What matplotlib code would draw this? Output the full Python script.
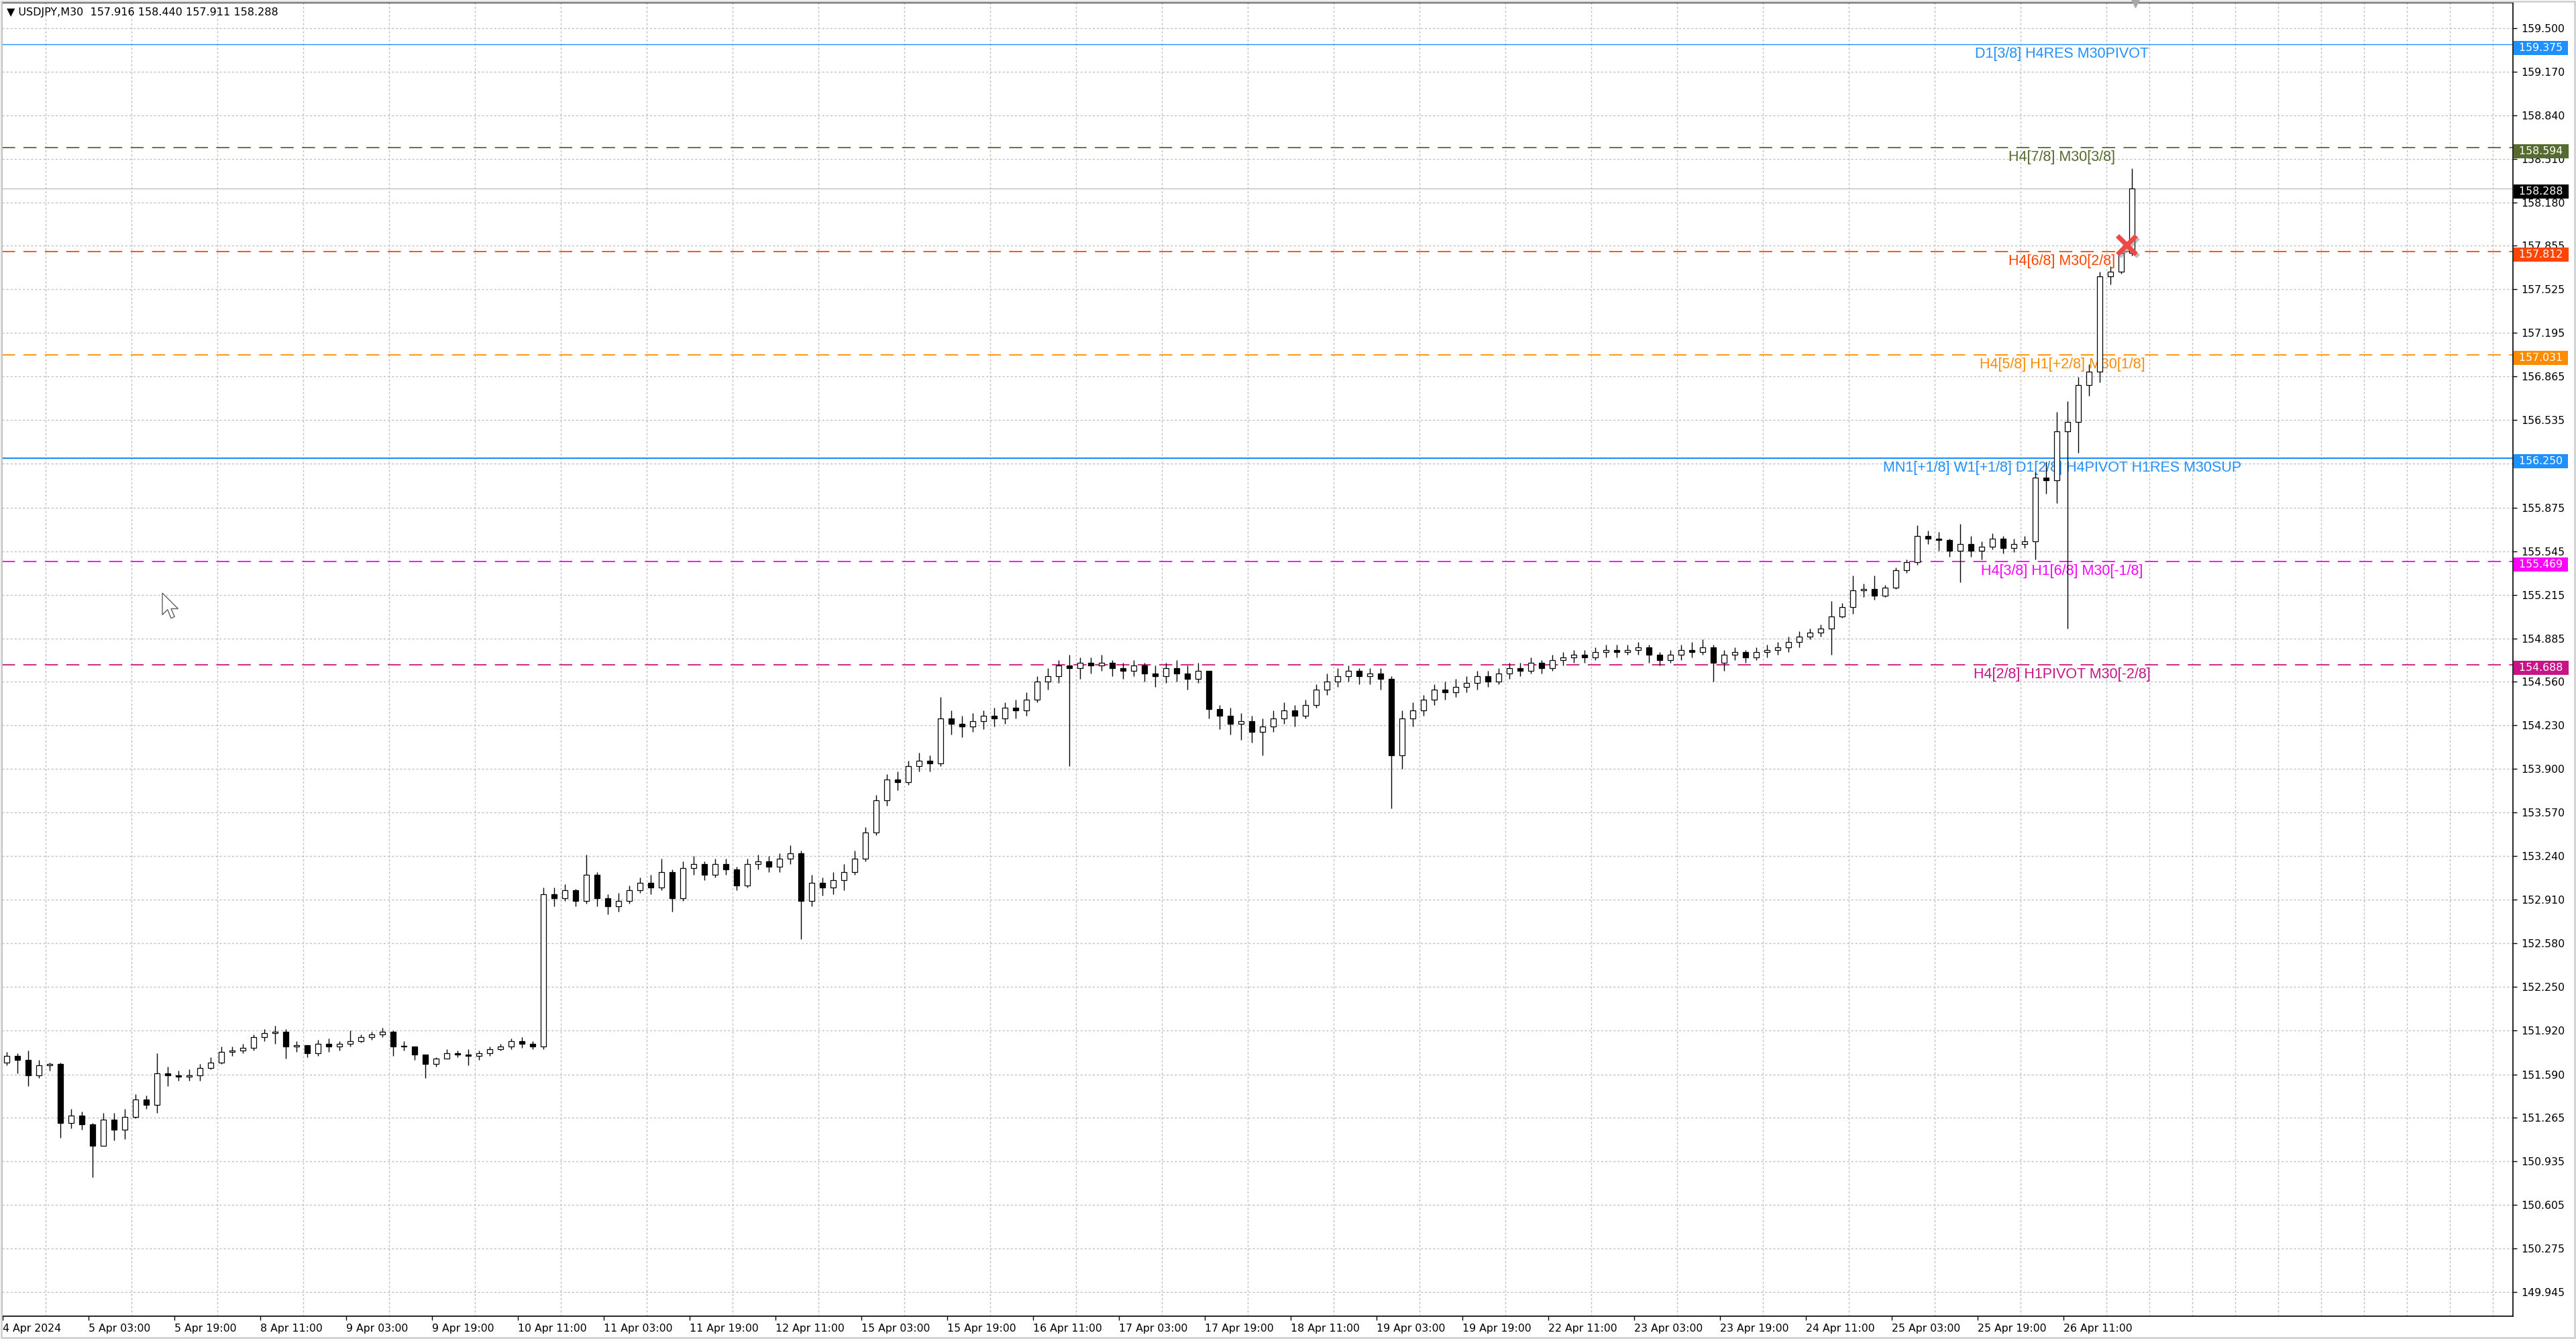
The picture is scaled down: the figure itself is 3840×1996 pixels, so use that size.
import matplotlib
matplotlib.use('Agg')
import matplotlib.pyplot as plt
import matplotlib.patheffects as pe
from matplotlib.patches import Polygon, Rectangle
from matplotlib.transforms import IdentityTransform
import numpy as np

W, H, DPI = 3840, 1996, 100

header = '\u25bc USDJPY,M30  157.916 158.440 157.911 158.288'

# 2-hour candles (open = previous close)
first_open = 151.68
closes = [151.73, 151.70, 151.58, 151.66, 151.67, 151.22, 151.28, 151.21, 151.05, 151.25,
          151.17, 151.27, 151.40, 151.36, 151.60, 151.58, 151.57, 151.58, 151.64, 151.68,
          151.76, 151.77, 151.79, 151.87, 151.90, 151.91, 151.80, 151.81, 151.75, 151.82,
          151.80, 151.82, 151.84, 151.87, 151.89, 151.91, 151.80, 151.80, 151.74, 151.67,
          151.71, 151.75, 151.74, 151.73, 151.75, 151.78, 151.80, 151.84, 151.82, 151.80,
          152.95, 152.92, 152.98, 152.90, 153.10, 152.92, 152.86, 152.90, 152.98, 153.04,
          153.00, 153.12, 152.92, 153.15, 153.18, 153.10, 153.18, 153.14, 153.02, 153.18,
          153.20, 153.16, 153.22, 153.26, 152.90, 153.04, 153.00, 153.06, 153.12, 153.22,
          153.42, 153.66, 153.82, 153.80, 153.92, 153.96, 153.94, 154.28, 154.24, 154.22,
          154.26, 154.30, 154.28, 154.36, 154.34, 154.42, 154.56, 154.60, 154.68, 154.66,
          154.70, 154.68, 154.70, 154.66, 154.64, 154.68, 154.62, 154.60, 154.66, 154.62,
          154.58, 154.64, 154.35, 154.30, 154.24, 154.26, 154.18, 154.22, 154.28, 154.34,
          154.30, 154.38, 154.50, 154.56, 154.60, 154.64, 154.60, 154.62, 154.58, 154.00,
          154.28, 154.34, 154.42, 154.50, 154.48, 154.52, 154.55, 154.60, 154.56, 154.62,
          154.66, 154.64, 154.70, 154.66, 154.72, 154.74, 154.76, 154.74, 154.78, 154.80,
          154.78, 154.80, 154.82, 154.76, 154.72, 154.76, 154.80, 154.78, 154.82, 154.70,
          154.76, 154.78, 154.74, 154.78, 154.80, 154.82, 154.86, 154.90, 154.93, 154.96,
          155.05, 155.12, 155.25, 155.26, 155.21, 155.27, 155.40, 155.46, 155.66, 155.64,
          155.63, 155.55, 155.60, 155.55, 155.58, 155.64, 155.57, 155.60, 155.62, 156.10,
          156.08, 156.45, 156.52, 156.80, 156.90, 157.62, 157.66, 157.80, 158.288]
highs = [151.76, 151.75, 151.77, 151.70, 151.68, 151.68, 151.33, 151.31, 151.22, 151.30,
         151.30, 151.33, 151.44, 151.43, 151.75, 151.65, 151.62, 151.63, 151.67, 151.72,
         151.80, 151.80, 151.82, 151.89, 151.93, 151.96, 151.93, 151.84, 151.81, 151.85,
         151.86, 151.84, 151.92, 151.89, 151.91, 151.94, 151.92, 151.84, 151.80, 151.73,
         151.72, 151.78, 151.77, 151.78, 151.77, 151.80, 151.82, 151.86, 151.87, 151.84,
         153.00, 153.00, 153.03, 152.99, 153.25, 153.12, 152.95, 152.96, 153.02, 153.08,
         153.10, 153.22, 153.14, 153.20, 153.24, 153.20, 153.22, 153.22, 153.16, 153.22,
         153.25, 153.24, 153.26, 153.32, 153.28, 153.10, 153.08, 153.12, 153.18, 153.28,
         153.46, 153.70, 153.86, 153.88, 153.96, 154.02, 154.00, 154.44, 154.34, 154.30,
         154.32, 154.34, 154.36, 154.40, 154.42, 154.48, 154.60, 154.66, 154.72, 154.76,
         154.74, 154.74, 154.76, 154.72, 154.70, 154.72, 154.70, 154.68, 154.70, 154.72,
         154.68, 154.70, 154.64, 154.38, 154.36, 154.32, 154.30, 154.28, 154.34, 154.40,
         154.38, 154.42, 154.54, 154.62, 154.66, 154.68, 154.66, 154.66, 154.66, 154.60,
         154.34, 154.40, 154.46, 154.54, 154.56, 154.58, 154.60, 154.64, 154.64, 154.66,
         154.70, 154.70, 154.74, 154.72, 154.76, 154.78, 154.80, 154.80, 154.82, 154.84,
         154.84, 154.84, 154.86, 154.84, 154.78, 154.80, 154.84, 154.86, 154.88, 154.84,
         154.80, 154.82, 154.80, 154.82, 154.84, 154.86, 154.90, 154.94, 154.96, 154.99,
         155.17, 155.15, 155.36, 155.30, 155.36, 155.29, 155.42, 155.48, 155.74, 155.70,
         155.69, 155.64, 155.75, 155.66, 155.62, 155.68, 155.66, 155.64, 155.66, 156.14,
         156.22, 156.60, 156.68, 156.86, 156.96, 157.66, 157.70, 157.82, 158.440]
lows = [151.66, 151.60, 151.50, 151.56, 151.62, 151.11, 151.18, 151.17, 150.81, 151.05,
        151.09, 151.10, 151.26, 151.33, 151.30, 151.50, 151.54, 151.54, 151.54, 151.63,
        151.67, 151.73, 151.75, 151.77, 151.84, 151.82, 151.71, 151.76, 151.72, 151.73,
        151.76, 151.77, 151.80, 151.83, 151.85, 151.87, 151.73, 151.77, 151.70, 151.56,
        151.65, 151.72, 151.72, 151.66, 151.70, 151.73, 151.77, 151.78, 151.79, 151.78,
        151.78, 152.86, 152.90, 152.86, 152.88, 152.86, 152.80, 152.82, 152.88, 152.96,
        152.95, 152.98, 152.82, 152.90, 153.10, 153.06, 153.08, 153.10, 152.98, 153.00,
        153.14, 153.12, 153.12, 153.18, 152.61, 152.86, 152.94, 152.95, 152.98, 153.10,
        153.20, 153.40, 153.62, 153.74, 153.78, 153.88, 153.88, 153.92, 154.16, 154.14,
        154.18, 154.20, 154.22, 154.24, 154.28, 154.30, 154.40, 154.50, 154.55, 153.92,
        154.58, 154.62, 154.64, 154.60, 154.58, 154.60, 154.56, 154.52, 154.55, 154.56,
        154.50, 154.55, 154.28, 154.20, 154.16, 154.12, 154.10, 154.00, 154.18, 154.24,
        154.22, 154.28, 154.36, 154.46, 154.52, 154.56, 154.54, 154.54, 154.50, 153.60,
        153.90, 154.22, 154.30, 154.38, 154.42, 154.44, 154.48, 154.50, 154.52, 154.54,
        154.58, 154.60, 154.62, 154.62, 154.64, 154.68, 154.70, 154.70, 154.72, 154.74,
        154.74, 154.76, 154.76, 154.70, 154.68, 154.70, 154.72, 154.74, 154.76, 154.56,
        154.64, 154.72, 154.70, 154.72, 154.74, 154.76, 154.78, 154.82, 154.88, 154.90,
        154.76, 155.04, 155.07, 155.20, 155.18, 155.20, 155.26, 155.38, 155.44, 155.60,
        155.55, 155.50, 155.31, 155.50, 155.48, 155.56, 155.53, 155.54, 155.57, 155.48,
        155.98, 155.91, 154.96, 156.29, 156.72, 156.82, 157.56, 157.64, 157.780]

bars_per_candle = 4          # M30 bars in one drawn candle
label_step = 32              # M30 bars between time labels
time_labels = ['4 Apr 2024', '5 Apr 03:00', '5 Apr 19:00', '8 Apr 11:00', '9 Apr 03:00',
               '9 Apr 19:00', '10 Apr 11:00', '11 Apr 03:00', '11 Apr 19:00', '12 Apr 11:00',
               '15 Apr 03:00', '15 Apr 19:00', '16 Apr 11:00', '17 Apr 03:00', '17 Apr 19:00',
               '18 Apr 11:00', '19 Apr 03:00', '19 Apr 19:00', '22 Apr 11:00', '23 Apr 03:00',
               '23 Apr 19:00', '24 Apr 11:00', '25 Apr 03:00', '25 Apr 19:00', '26 Apr 11:00']
price_ticks = [159.500, 159.170, 158.840, 158.510, 158.180, 157.855, 157.525, 157.195,
               156.865, 156.535, 156.205, 155.875, 155.545, 155.215, 154.885, 154.560,
               154.230, 153.900, 153.570, 153.240, 152.910, 152.580, 152.250, 151.920,
               151.590, 151.265, 150.935, 150.605, 150.275, 149.945]

level_prices = [159.375, 158.594, 157.812, 157.031, 156.250, 155.469, 154.688]
level_names = ['D1[3/8] H4RES M30PIVOT', 'H4[7/8] M30[3/8]', 'H4[6/8] M30[2/8]',
               'H4[5/8] H1[+2/8] M30[1/8]', 'MN1[+1/8] W1[+1/8] D1[2/8] H4PIVOT H1RES M30SUP',
               'H4[3/8] H1[6/8] M30[-1/8]', 'H4[2/8] H1PIVOT M30[-2/8]']
level_colors = ['#1E90FF', '#556B2F', '#FF4500', '#FF8C00', '#1E90FF', '#FF00FF', '#C71585']
level_solid = [True, False, False, False, True, False, False]
level_widths = [1.0, 1.3, 1.3, 1.3, 1.6, 1.3, 1.3]
level_label_bar = 767.5

bid_price = 158.288
cross_bar, cross_price = 791.5, 157.86

plt.rcParams['font.family'] = ['DejaVu Sans']
plt.rcParams['lines.scale_dashes'] = False

fig = plt.figure(figsize=(W / DPI, H / DPI), dpi=DPI, facecolor='white')
ax = fig.add_axes([3 / W, 1 - 1962 / H, (3746 - 3) / W, (1962 - 4) / H])
ax.set_facecolor('white')

# candles
n = len(closes)
opens = np.array([first_open] + closes[:-1])
c = np.array(closes)
hi = np.maximum(np.array(highs), np.maximum(opens, c))
lo = np.minimum(np.array(lows), np.minimum(opens, c))
xs = np.arange(n) * bars_per_candle + 1.5
up = c >= opens
body_bot = np.minimum(opens, c)
body_h = np.maximum(np.abs(c - opens), 0.006)

ax.vlines(xs, lo, hi, color='black', lw=1.0, zorder=4)
ax.bar(xs, body_h, width=2.0, bottom=body_bot,
       color=np.where(up, 'white', 'black'), edgecolor='black', linewidth=0.9, zorder=5)

# levels
for p, name, col, solid, lw in zip(level_prices, level_names, level_colors, level_solid, level_widths):
    ls = '-' if solid else (0, (14, 9))
    ax.axhline(p, color=col, lw=lw, linestyle=ls, zorder=2)
    ax.annotate(name, xy=(level_label_bar, p), xytext=(0, -3), textcoords='offset points',
                ha='center', va='top', color=col, fontsize=15.5, family='Liberation Sans',
                zorder=3)
ax.axhline(bid_price, color='#C0C0C0', lw=1.0, zorder=2)

# cross marker
ax.plot([cross_bar], [cross_price], marker='x', ms=20, mew=5, color='#F04848', zorder=7,
        path_effects=[pe.SimpleLineShadow(offset=(2, -2), shadow_color='gray', alpha=0.5),
                      pe.Normal()])

# axes
ax.set_xlim(-0.25, 935.5)
ax.set_ylim(149.762, 159.691)
major_x = np.arange(len(time_labels)) * label_step
ax.set_xticks(major_x)
ax.set_xticklabels(time_labels)
for lab in ax.get_xticklabels():
    lab.set_ha('left')
ax.set_xticks(np.arange(0, 936, label_step // 2), minor=True)
ax.tick_params(axis='x', which='major', direction='out', length=4, width=1, pad=4,
               labelsize=11.3, colors='black')
ax.tick_params(axis='x', which='minor', length=0)

ax.yaxis.tick_right()
ax.set_yticks(price_ticks)
ax.set_yticklabels(['%.3f' % v for v in price_ticks])
ax.tick_params(axis='y', which='major', direction='out', length=4, width=1, pad=5,
               labelsize=11.3, colors='black')

ax.set_axisbelow(True)
ax.grid(True, axis='x', which='minor', color='#C0C0C0', lw=1, linestyle=(0, (2.2, 2.2)))
ax.grid(True, axis='y', which='major', color='#C0C0C0', lw=1, linestyle=(0, (2.2, 2.2)))
for s in ax.spines.values():
    s.set_color('black')
    s.set_linewidth(1.2)

# price boxes on the right scale (sit a little below their line, as in the terminal)
box_prices = level_prices + [bid_price]
box_colors = level_colors + ['black']
for p, col in zip(box_prices, box_colors):
    ax.annotate(' %.3f ' % p, xy=(1, p), xycoords=ax.get_yaxis_transform(),
                xytext=(3, -3.5), textcoords='offset points', ha='left', va='center',
                fontsize=11.3, color='white', annotation_clip=False, zorder=10,
                bbox=dict(boxstyle='square,pad=0.2', fc=col, ec='none'))

fig.text(10 / W, 1 - 18 / H, header, ha='left', va='center', fontsize=11.5, color='black')

# chart shift marker and mouse cursor
fig.add_artist(plt.Line2D([3183 / W], [1 - 5 / H], marker='v', ms=9, color='#A8A8A8',
                          transform=fig.transFigure))
tip_x, tip_y = 242, H - 884
arrow = np.array([(0, 0), (0, -25), (6, -19), (10, -29), (14, -27), (10, -18), (18, -18)]) * 1.3
fig.add_artist(Polygon(arrow + [tip_x, tip_y], closed=True, fc='white', ec='#606060', lw=1,
                       transform=IdentityTransform()))

# window border
fig.add_artist(Rectangle((0.0005, 0.001), 0.999, 0.998, transform=fig.transFigure,
                         fill=False, ec='#D0D0D0', lw=2))

fig.savefig('out.png', dpi=DPI, facecolor='white')
